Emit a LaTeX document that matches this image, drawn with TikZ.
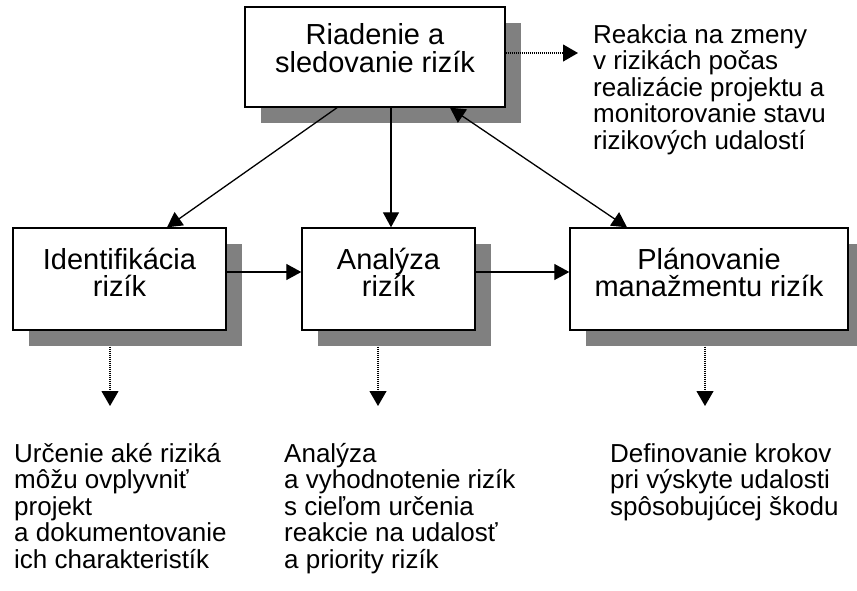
\documentclass[tikz,border=0pt]{standalone}
\usepackage{fontspec}
\setmainfont{Liberation Sans}
\usetikzlibrary{arrows.meta,shadows}
\definecolor{shadowgray}{HTML}{808080}
\newcommand{\lowpad}[1]{\rule[-#1]{0pt}{0pt}}
\begin{document}
\begin{tikzpicture}[x=1pt,y=-1pt,
  box/.style={draw=black, line width=1.4pt, fill=white, rectangle, inner sep=0pt, align=center,
    font=\fontsize{29}{27.5}\selectfont,
    general shadow={fill=shadowgray, shadow xshift=16pt, shadow yshift=-16pt}},
  conn/.style={line width=1.3pt, -{Triangle[length=15pt,width=16pt]}},
  dconn/.style={line width=1.3pt, {Triangle[length=15pt,width=16pt]}-{Triangle[length=15pt,width=16pt]}},
  dotconn/.style={line width=1.1pt, dash pattern=on 1pt off 1pt, -{Triangle[length=15pt,width=17pt]}},
  note/.style={anchor=base west, align=left, inner sep=0pt, font=\fontsize{26}{26.5}\selectfont}]
\useasboundingbox (0,0) rectangle (857,590);

\node[box, minimum width=260pt, minimum height=100pt] (top) at (375,57) {Riadenie a\\sledovanie rizík\lowpad{18pt}};
\node[box, minimum width=213pt, minimum height=102pt] (ident) at (119.5,279) {Identifikácia\\rizík\lowpad{13pt}};
\node[box, minimum width=173pt, minimum height=102pt] (anal) at (388.5,279) {Analýza\\rizík\lowpad{13pt}};
\node[box, minimum width=278pt, minimum height=102pt] (plan) at (709,279) {Plánovanie\\manažmentu rizík\lowpad{13pt}};

% base anchor of a multi-line note is the baseline of its last line
\node[note] (t0) at (593,149) {Reakcia na zmeny\\v rizikách počas\\realizácie projektu a\\monitorovanie stavu\\rizikových udalostí};
\node[note] (t1) at (14,568) {Určenie aké riziká\\môžu ovplyvniť\\projekt\\a dokumentovanie\\ich charakteristík};
\node[note] (t2) at (284,568) {Analýza\\a vyhodnotenie rizík\\s cieľom určenia\\reakcie na udalosť\\a priority rizík};
\node[note] (t3) at (610,515) {Definovanie krokov\\pri výskyte udalosti\\spôsobujúcej škodu};

\coordinate (e0) at (578,53);
\coordinate (e1) at (110,406);
\coordinate (e2) at (378,406);
\coordinate (e3) at (705,406);

\draw[conn] ([xshift=-38pt]top.south) -- ([xshift=47.5pt]ident.north);
\draw[conn] ([xshift=16pt]top.south) -- ([xshift=2.5pt]anal.north);
\draw[dconn] ([xshift=-82pt]plan.north) -- ([xshift=75pt]top.south);
\draw[conn] ([yshift=7pt]ident.east) -- ([yshift=7pt]anal.west);
\draw[conn] ([yshift=7pt]anal.east) -- ([yshift=7pt]plan.west);

\draw[dotconn] ([yshift=4pt]top.east) -- (e0);
\draw[dotconn] ([xshift=-9.5pt,yshift=-16pt]ident.south) -- (e1);
\draw[dotconn] ([xshift=-10.5pt,yshift=-16pt]anal.south) -- (e2);
\draw[dotconn] ([xshift=-4pt,yshift=-16pt]plan.south) -- (e3);
\end{tikzpicture}
\end{document}
